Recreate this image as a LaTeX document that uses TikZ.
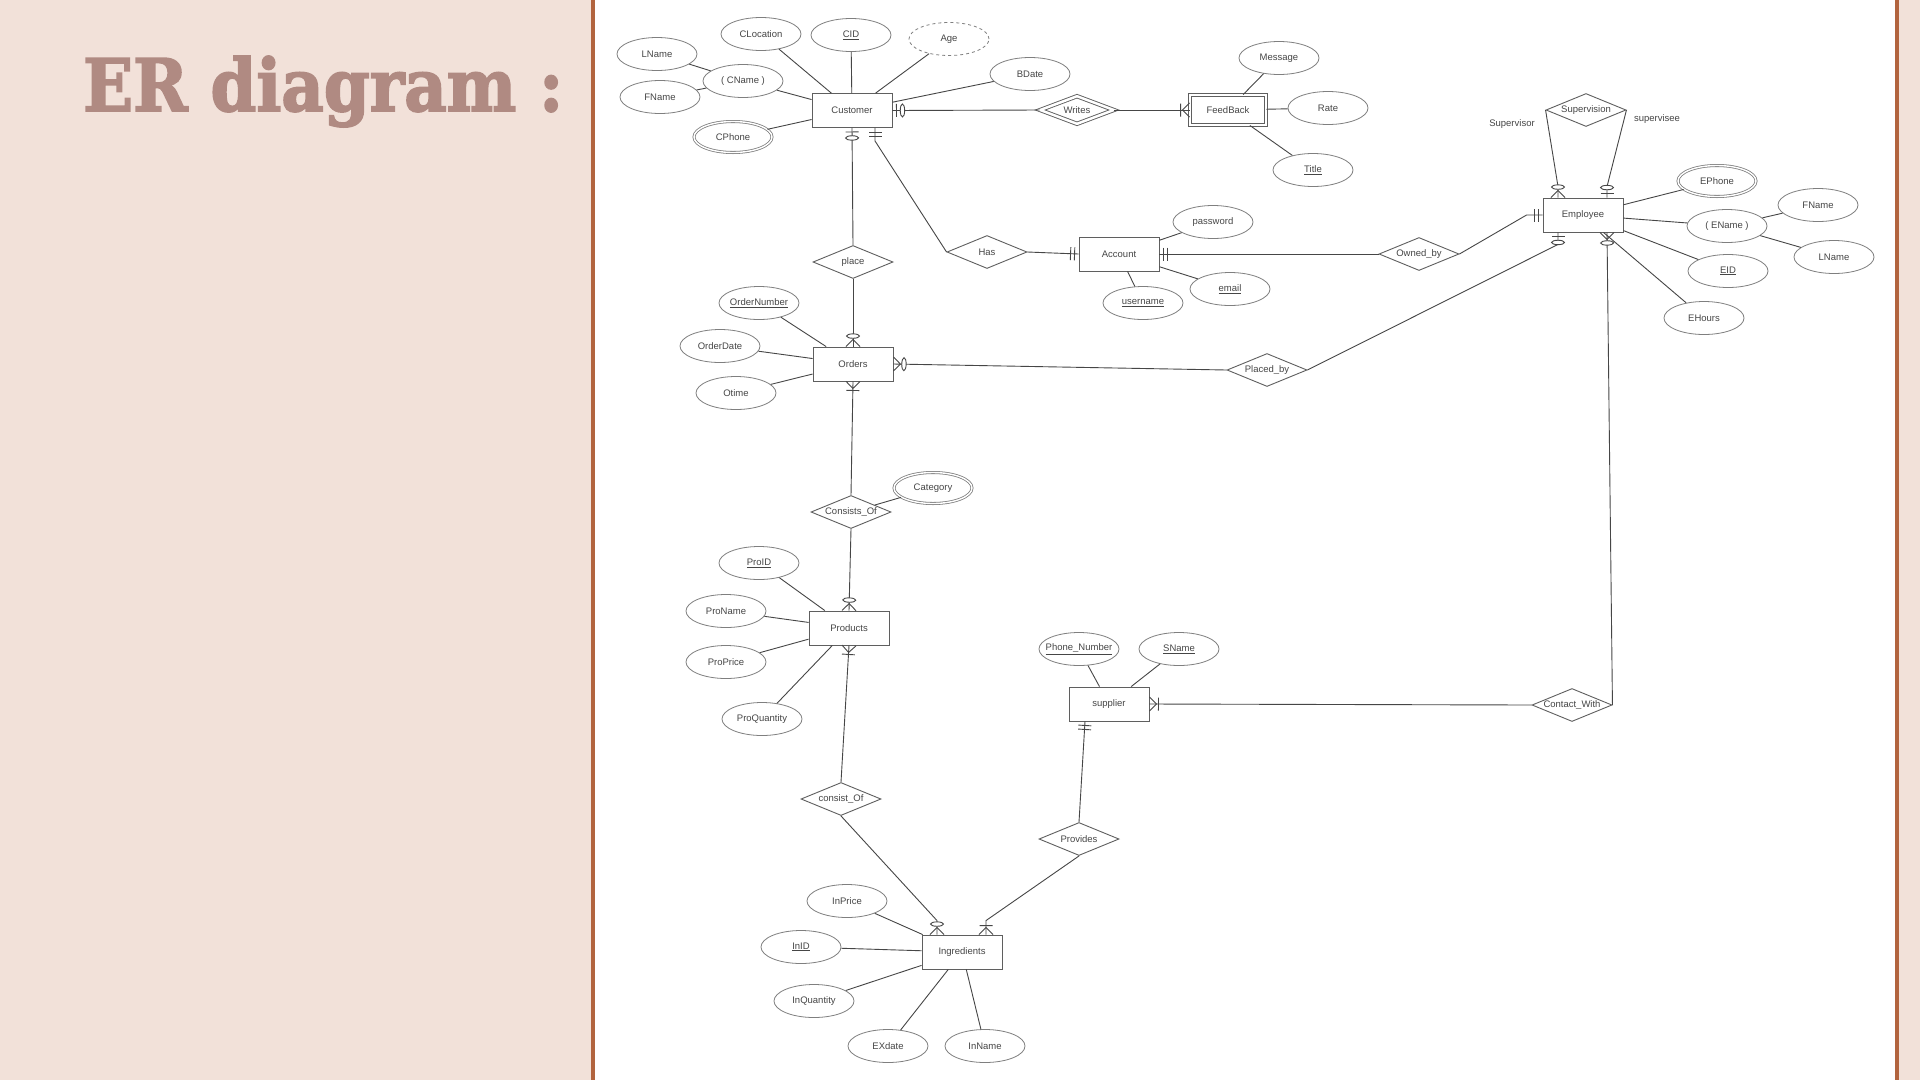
\documentclass[tikz,border=0pt]{standalone}
\usepackage{fontspec}
\usepackage{graphicx}
\setmainfont{Liberation Sans}
\newfontfamily\titlefont{DejaVu Serif}[BoldFeatures={FakeBold=2.5}]
\usetikzlibrary{shapes.geometric}

\definecolor{bgpink}{RGB}{242,225,217}
\definecolor{edgebrown}{RGB}{178,100,62}
\definecolor{titlecol}{RGB}{176,138,130}
\definecolor{inkgray}{RGB}{70,70,70}
\definecolor{shapegray}{RGB}{95,95,95}

% crow's foot ends, drawn at the entity side of a link
\pgfdeclarearrow{
  name = erOne,
  setup code = {
    \pgfarrowssettipend{0pt}
    \pgfarrowssetlineend{0pt}
    \pgfarrowssetbackend{-9pt}
    \pgfarrowshullpoint{0pt}{6.5pt}
    \pgfarrowshullpoint{0pt}{-6.5pt}
    \pgfarrowshullpoint{-9pt}{6.5pt}
    \pgfarrowshullpoint{-9pt}{-6.5pt}
  },
  drawing code = {
    \pgfsetdash{}{0pt}
    \pgfpathmoveto{\pgfqpoint{-4pt}{-6.5pt}}
    \pgfpathlineto{\pgfqpoint{-4pt}{6.5pt}}
    \pgfpathmoveto{\pgfqpoint{-8pt}{-6.5pt}}
    \pgfpathlineto{\pgfqpoint{-8pt}{6.5pt}}
    \pgfusepathqstroke
  }
}
\pgfdeclarearrow{
  name = erZeroOne,
  setup code = {
    \pgfarrowssettipend{0pt}
    \pgfarrowssetlineend{0pt}
    \pgfarrowssetbackend{-13pt}
    \pgfarrowshullpoint{0pt}{6.5pt}
    \pgfarrowshullpoint{0pt}{-6.5pt}
    \pgfarrowshullpoint{-13pt}{6.5pt}
    \pgfarrowshullpoint{-13pt}{-6.5pt}
  },
  drawing code = {
    \pgfsetdash{}{0pt}
    \pgfpathmoveto{\pgfqpoint{-4pt}{-6.5pt}}
    \pgfpathlineto{\pgfqpoint{-4pt}{6.5pt}}
    \pgfusepathqstroke
    \pgfpathellipse{\pgfqpoint{-10pt}{0pt}}{\pgfqpoint{2.2pt}{0pt}}{\pgfqpoint{0pt}{6.5pt}}
    \pgfsetfillcolor{white}
    \pgfusepathqfillstroke
  }
}
\pgfdeclarearrow{
  name = erMany,
  setup code = {
    \pgfarrowssettipend{0pt}
    \pgfarrowssetlineend{0pt}
    \pgfarrowssetbackend{-10pt}
    \pgfarrowshullpoint{0pt}{7pt}
    \pgfarrowshullpoint{0pt}{-7pt}
    \pgfarrowshullpoint{-10pt}{6.5pt}
    \pgfarrowshullpoint{-10pt}{-6.5pt}
  },
  drawing code = {
    \pgfsetdash{}{0pt}
    \pgfpathmoveto{\pgfqpoint{0pt}{7pt}}
    \pgfpathlineto{\pgfqpoint{-7pt}{0pt}}
    \pgfpathlineto{\pgfqpoint{0pt}{-7pt}}
    \pgfpathmoveto{\pgfqpoint{-9pt}{-6.5pt}}
    \pgfpathlineto{\pgfqpoint{-9pt}{6.5pt}}
    \pgfusepathqstroke
  }
}
\pgfdeclarearrow{
  name = erZeroMany,
  setup code = {
    \pgfarrowssettipend{0pt}
    \pgfarrowssetlineend{0pt}
    \pgfarrowssetbackend{-13pt}
    \pgfarrowshullpoint{0pt}{7pt}
    \pgfarrowshullpoint{0pt}{-7pt}
    \pgfarrowshullpoint{-13pt}{6.5pt}
    \pgfarrowshullpoint{-13pt}{-6.5pt}
  },
  drawing code = {
    \pgfsetdash{}{0pt}
    \pgfpathmoveto{\pgfqpoint{0pt}{7pt}}
    \pgfpathlineto{\pgfqpoint{-7pt}{0pt}}
    \pgfpathlineto{\pgfqpoint{0pt}{-7pt}}
    \pgfusepathqstroke
    \pgfpathellipse{\pgfqpoint{-10.5pt}{0pt}}{\pgfqpoint{2.2pt}{0pt}}{\pgfqpoint{0pt}{6.5pt}}
    \pgfsetfillcolor{white}
    \pgfusepathqfillstroke
  }
}

\tikzset{
  every node/.style={font=\fontsize{9.5}{11}\selectfont, text=inkgray},
  fixed/.style={inner sep=0pt,
    execute at begin node={\hbox to 0pt\bgroup\hss},
    execute at end node={\hss\egroup}},
  entity/.style={fixed, rectangle, draw=shapegray, line width=0.9pt,
    minimum width=80pt, minimum height=34pt},
  weak entity/.style={entity, double, double distance=2.5pt,
    minimum width=76pt, minimum height=30pt},
  attribute/.style={fixed, ellipse, draw=shapegray!80, line width=0.8pt,
    minimum width=80pt, minimum height=33pt},
  multi attribute/.style={attribute, double, double distance=1.4pt,
    minimum width=78pt, minimum height=31pt},
  derived attribute/.style={attribute, dashed},
  relation/.style={fixed, diamond, draw=shapegray, line width=0.9pt,
    minimum width=80pt, minimum height=33pt},
  weak relation/.style={relation, double, double distance=2.5pt,
    minimum width=74pt, minimum height=28pt},
  role/.style={inner sep=0pt},
  link/.style={draw=inkgray, line width=0.9pt}
}

\begin{document}
\begin{tikzpicture}[x=1pt, y=-1pt]
\useasboundingbox (0,0) rectangle (1920,1080);
% slide background
\fill[bgpink] (0,0) rectangle (1920,1080);
\fill[white] (595,0) rectangle (1895,1080);
\fill[edgebrown] (591,0) rectangle (595,1080);
\fill[edgebrown] (1895,0) rectangle (1899,1080);
\node[anchor=base west, inner sep=0pt, text=titlecol] (heading) at (83,111)
  {\resizebox{480pt}{55pt}{\titlefont\bfseries ER diagram :}};

% entities
\node[entity] (Customer) at (852,110.5) {Customer};
\node[weak entity] (FeedBack) at (1228,110) {FeedBack};
\node[entity] (Account) at (1119,254) {Account};
\node[entity] (Employee) at (1583,215) {Employee};
\node[entity] (Orders) at (853,364) {Orders};
\node[entity] (Products) at (849,628) {Products};
\node[entity] (supplier) at (1109,704) {supplier};
\node[entity] (Ingredients) at (962,952) {Ingredients};

% relationships
\node[weak relation] (Writes) at (1077,110) {Writes};
\node[relation] (place) at (853,262) {place};
\node[relation] (Has) at (987,252) {Has};
\node[relation] (Owned_by) at (1419,254) {Owned\_by};
\node[relation] (Supervision) at (1586,110) {Supervision};
\node[relation] (Placed_by) at (1267,370) {Placed\_by};
\node[relation] (Consists_Of) at (851,512) {Consists\_Of};
\node[relation] (consist_Of) at (841,799) {consist\_Of};
\node[relation] (Provides) at (1079,839) {Provides};
\node[relation] (Contact_With) at (1572,705) {Contact\_With};
\node[role] (supervisor) at (1512,124) {Supervisor};
\node[role] (supervisee) at (1657,119) {supervisee};

% customer attributes
\node[attribute] (CLocation) at (761,34) {CLocation};
\node[attribute] (CID) at (851,35) {\underline{CID}};
\node[derived attribute] (Age) at (949,39) {Age};
\node[attribute] (CLName) at (657,54) {LName};
\node[attribute] (CName) at (743,81) {( CName )};
\node[attribute] (CFName) at (660,97) {FName};
\node[multi attribute] (CPhone) at (733,137) {CPhone};
\node[attribute] (BDate) at (1030,74) {BDate};

% feedback attributes
\node[attribute] (Message) at (1279,58) {Message};
\node[attribute] (Rate) at (1328,108) {Rate};
\node[attribute] (Title) at (1313,170) {\underline{Title}};

% account attributes
\node[attribute] (password) at (1213,222) {password};
\node[attribute] (email) at (1230,289) {\underline{email}};
\node[attribute] (username) at (1143,303) {\underline{username}};

% employee attributes
\node[multi attribute] (EPhone) at (1717,181) {EPhone};
\node[attribute] (EName) at (1727,226) {( EName )};
\node[attribute] (EFName) at (1818,205) {FName};
\node[attribute] (ELName) at (1834,257) {LName};
\node[attribute] (EID) at (1728,271) {\underline{EID}};
\node[attribute] (EHours) at (1704,318) {EHours};

% order attributes
\node[attribute] (OrderNumber) at (759,303) {\underline{OrderNumber}};
\node[attribute] (OrderDate) at (720,346) {OrderDate};
\node[attribute] (Otime) at (736,393) {Otime};
\node[multi attribute] (Category) at (933,488) {Category};

% product attributes
\node[attribute] (ProID) at (759,563) {\underline{ProID}};
\node[attribute] (ProName) at (726,611) {ProName};
\node[attribute] (ProPrice) at (726,662) {ProPrice};
\node[attribute] (ProQuantity) at (762,719) {ProQuantity};

% supplier attributes
\node[attribute] (Phone_Number) at (1079,649) {\underline{Phone\_Number}};
\node[attribute] (SName) at (1179,649) {\underline{SName}};

% ingredient attributes
\node[attribute] (InPrice) at (847,901) {InPrice};
\node[attribute] (InID) at (801,947) {\underline{InID}};
\node[attribute] (InQuantity) at (814,1001) {InQuantity};
\node[attribute] (EXdate) at (888,1046) {EXdate};
\node[attribute] (InName) at (985,1046) {InName};

% attribute links
\foreach \a/\b in {CLocation/Customer, CID/Customer, Age/Customer, CName/Customer,
    CLName/CName, CFName/CName, CPhone/Customer, BDate/Customer,
    Message/FeedBack, Rate/FeedBack, Title/FeedBack,
    password/Account, email/Account, username/Account,
    EPhone/Employee, EName/Employee, EFName/EName, ELName/EName,
    EID/Employee, EHours/Employee,
    OrderNumber/Orders, OrderDate/Orders, Otime/Orders, Category/Consists_Of,
    ProID/Products, ProName/Products, ProPrice/Products, ProQuantity/Products,
    Phone_Number/supplier, SName/supplier,
    InPrice/Ingredients, InID/Ingredients, InQuantity/Ingredients,
    EXdate/Ingredients, InName/Ingredients}
  \draw[link] (\a) -- (\b);

% relationship links
\draw[link, {erZeroOne[]}-] (Customer.east) -- (Writes.west);
\draw[link, {erMany[]}-] (FeedBack.west) -- (Writes.east);
\draw[link, {erZeroOne[]}-] (Customer.south) -- (place.north);
\draw[link, {erOne[]}-] ([xshift=23pt]Customer.south) -- ++(0,13) -- (Has.west);
\draw[link, {erOne[]}-] (Account.west) -- (Has.east);
\draw[link, {erOne[]}-] (Account.east) -- (Owned_by.west);
\draw[link, {erOne[]}-] (Employee.west) -- ++(-16,0) -- (Owned_by.east);
\draw[link, {erZeroMany[]}-] ([xshift=-25pt]Employee.north) -- ++(0,-11) -- (Supervision.west);
\draw[link, {erZeroOne[]}-] ([xshift=24pt]Employee.north) -- ++(0,-11) -- (Supervision.east);
\draw[link, {erZeroMany[]}-] (Orders.north) -- (place.south);
\draw[link, {erZeroMany[]}-] (Orders.east) -- (Placed_by.west);
\draw[link, {erZeroOne[]}-] ([xshift=-25pt]Employee.south) -- ++(0,12) -- (Placed_by.east);
\draw[link, {erMany[]}-] (Orders.south) -- (Consists_Of.north);
\draw[link, {erZeroMany[]}-] (Products.north) -- (Consists_Of.south);
\draw[link, {erMany[]}-] (Products.south) -- (consist_Of.north);
\draw[link, {erZeroMany[]}-] ([xshift=-25pt]Ingredients.north) -- ++(0,-14) -- (consist_Of.south);
\draw[link, {erMany[]}-] ([xshift=24pt]Ingredients.north) -- ++(0,-14) -- (Provides.south);
\draw[link, {erOne[]}-] ([xshift=-24pt]supplier.south) -- (Provides.north);
\draw[link, {erMany[]}-] (supplier.east) -- (Contact_With.west);
\draw[link, {erZeroMany[]}-] ([xshift=24pt]Employee.south) -- (Contact_With.east);
\end{tikzpicture}
\end{document}
